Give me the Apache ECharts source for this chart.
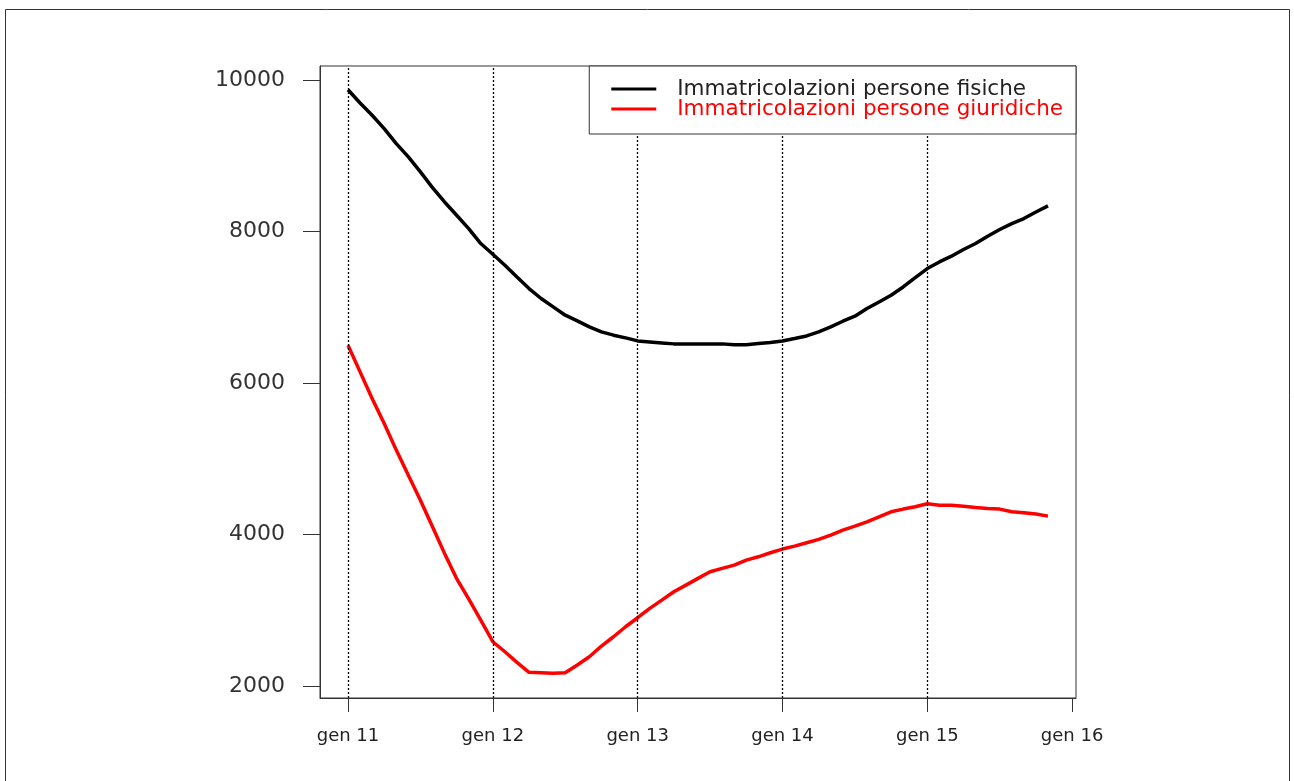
<!DOCTYPE html>
<html>
<head>
<meta charset="utf-8">
<script src="https://cdn.jsdelivr.net/npm/echarts@6/dist/echarts.min.js"></script>
<style>
  html, body { margin: 0; padding: 0; background: #fff; }
  #chart { width: 1294px; height: 781px; }
</style>
</head>
<body>
<div id="chart"></div>
<script>
// Monthly registrations, January 2011 to November 2015 (month 0 = gen 11)
const personeFisiche = [
  9875, 9700, 9538, 9362, 9164, 8988, 8790, 8583, 8393, 8218, 8042, 7844,
  7703, 7558, 7403, 7250, 7118, 7007, 6898, 6822, 6743, 6677, 6634, 6598,
  6558, 6545, 6532, 6519, 6519, 6519, 6519, 6519, 6506, 6506, 6524, 6537,
  6558, 6590, 6624, 6677, 6743, 6818, 6884, 6986, 7073, 7162, 7271, 7395,
  7514, 7601, 7677, 7765, 7844, 7941, 8029, 8108, 8174, 8261, 8341
];
const personeGiuridiche = [
  6502, 6149, 5798, 5468, 5116, 4785, 4455, 4103, 3752, 3420, 3150, 2871,
  2585, 2453, 2313, 2181, 2176, 2168, 2176, 2277, 2387, 2528, 2651, 2783,
  2902, 3026, 3135, 3245, 3333, 3422, 3509, 3554, 3597, 3663, 3707, 3760,
  3809, 3848, 3892, 3937, 3993, 4059, 4112, 4169, 4235, 4301, 4337, 4367,
  4407, 4389, 4389, 4376, 4359, 4346, 4337, 4301, 4288, 4271, 4244
];
const seriesNames = ['Immatricolazioni persone fisiche', 'Immatricolazioni persone giuridiche'];
const tickMonths = [0, 12, 24, 36, 48, 60];
const tickLabels = ['gen 11', 'gen 12', 'gen 13', 'gen 14', 'gen 15', 'gen 16'];
const gridMonths = [0, 12, 24, 36, 48];
const yTicks = [2000, 4000, 6000, 8000, 10000];

const toPairs = arr => arr.map((v, i) => [i, v]);
const FONT = 'DejaVu Sans';
const AXIS = '#333';

const chart = echarts.init(document.getElementById('chart'), null, { renderer: 'canvas' });
chart.setOption({
  animation: false,
  backgroundColor: '#fff',
  graphic: [{
    type: 'rect',
    shape: { x: 5.5, y: 9.5, width: 1284, height: 790 },
    style: { fill: 'none', stroke: '#333', lineWidth: 1 },
    silent: true,
    z: -10
  }],
  grid: {
    left: 320, right: 218, top: 66, bottom: 83,
    show: true, borderColor: AXIS, borderWidth: 1, backgroundColor: 'transparent'
  },
  legend: {
    orient: 'vertical',
    right: 218,
    top: 66,
    padding: [12, 13, 14, 22],
    itemGap: -2,
    itemWidth: 45,
    itemHeight: 3,
    icon: 'rect',
    backgroundColor: '#fff',
    borderColor: AXIS,
    borderWidth: 1,
    borderRadius: 0,
    selectedMode: false,
    textStyle: { fontFamily: FONT, fontSize: 21.5, lineHeight: 20, padding: [0, 0, 0, 16] },
    data: [
      { name: seriesNames[0], textStyle: { color: '#222' } },
      { name: seriesNames[1], textStyle: { color: '#ff0000' } }
    ],
    z: 10
  },
  xAxis: {
    type: 'value',
    min: -2.32,
    max: 60.32,
    axisLine: { show: true, onZero: false, lineStyle: { color: AXIS, width: 1 } },
    axisTick: { show: true, length: 14, customValues: tickMonths, lineStyle: { color: AXIS, width: 1 } },
    axisLabel: {
      show: true,
      customValues: tickMonths,
      margin: 29,
      fontFamily: FONT,
      fontSize: 18,
      color: '#222',
      formatter: v => tickLabels[tickMonths.indexOf(Math.round(v))] || ''
    },
    splitLine: { show: false }
  },
  yAxis: {
    type: 'value',
    min: 1842,
    max: 10189,
    axisLine: { show: true, onZero: false, lineStyle: { color: AXIS, width: 1 } },
    axisTick: { show: true, length: 17, customValues: yTicks, lineStyle: { color: AXIS, width: 1 } },
    axisLabel: {
      show: true,
      customValues: yTicks,
      margin: 35,
      fontFamily: FONT,
      fontSize: 22,
      color: '#333',
      formatter: v => String(v)
    },
    splitLine: { show: false }
  },
  series: [
    {
      // yearly vertical guides
      type: 'line',
      name: 'guide',
      data: [],
      z: 1,
      silent: true,
      markLine: {
        silent: true,
        symbol: ['none', 'none'],
        label: { show: false },
        lineStyle: { color: '#000', width: 1.3, type: [2, 2] },
        data: gridMonths.map(m => ({ xAxis: m }))
      }
    },
    {
      type: 'line',
      name: seriesNames[0],
      data: toPairs(personeFisiche),
      showSymbol: false,
      color: '#000',
      lineStyle: { color: '#000', width: 3.5 },
      z: 3
    },
    {
      type: 'line',
      name: seriesNames[1],
      data: toPairs(personeGiuridiche),
      showSymbol: false,
      color: '#ff0000',
      lineStyle: { color: '#ff0000', width: 3.5 },
      z: 3
    }
  ]
});
</script>
</body>
</html>
